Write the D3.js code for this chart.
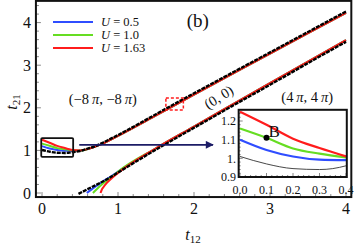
<!DOCTYPE html>
<html><head><meta charset="utf-8">
<script src="https://cdn.jsdelivr.net/npm/d3@7"></script>
<style>
body{margin:0;background:#fff}
text{font-family:"Liberation Serif","Times New Roman",serif;fill:#111}
</style></head><body>
<svg width="354" height="245"></svg>
<script>
var svg = d3.select("svg");

// ticks
var xTicks = [0, 1, 2, 3, 4];
var yTicks = [0, 1, 2, 3, 4];
var insetXTicks = [0, 0.1, 0.2, 0.3, 0.4];
var insetYTicks = [0.9, 1.0, 1.1, 1.2];
var insetYLabels = ["0.9", "1.", "1.1", "1.2"];

var uValues = ["0.5", "1.0", "1.63"];
var colors = ["#2f4dff", "#66dd22", "#ff1c1c"];

// upper branch (t12, t21)
var blackUpper = [[0,1.01],[0.1,0.97],[0.2,0.945],[0.3,0.94],[0.35,0.945],[0.4,0.96],[0.5,0.985],[0.6,1.04],[0.7,1.1],[0.8,1.18],[0.9,1.27],[1.0,1.36],[1.25,1.6],[1.5,1.85],[2,2.34],[2.5,2.82],[3,3.3],[3.5,3.78],[4,4.26]];
var blueUpper = [[0,1.10],[0.1,1.045],[0.2,1.01],[0.3,0.993],[0.4,0.99],[0.5,0.99],[0.6,1.03],[0.7,1.09],[0.8,1.16],[0.9,1.25],[1.0,1.34],[1.5,1.82],[2,2.31],[3,3.27],[4,4.23]];
var greenUpper = [[0,1.16],[0.1,1.11],[0.2,1.053],[0.3,1.025],[0.4,1.005],[0.5,0.995],[0.6,1.03],[0.7,1.09],[0.8,1.16],[0.9,1.25],[1.0,1.34],[1.5,1.82],[2,2.31],[3,3.27],[4,4.23]];
var redUpper = [[0,1.25],[0.1,1.18],[0.2,1.105],[0.3,1.055],[0.4,1.01],[0.5,1.0],[0.6,1.03],[0.7,1.09],[0.8,1.16],[0.9,1.25],[1.0,1.34],[1.5,1.82],[2,2.31],[3,3.27],[4,4.23]];

// lower branch
var blackLower = [[0.48,-0.02],[0.6,0.09],[0.7,0.18],[0.8,0.27],[0.9,0.37],[1.0,0.48],[1.5,1.02],[2,1.53],[2.5,2.04],[3,2.54],[3.5,3.05],[4,3.55]];
var blueLower = [[0.59,0.0],[0.65,0.08],[0.72,0.17],[0.8,0.27],[0.9,0.38],[1.0,0.5],[1.5,1.05],[2,1.56],[3,2.58],[4,3.59]];
var greenLower = [[0.67,0.0],[0.72,0.09],[0.78,0.19],[0.85,0.29],[0.92,0.38],[1.0,0.5],[1.5,1.05],[2,1.56],[3,2.58],[4,3.59]];
var redLower = [[0.77,0.0],[0.785,0.07],[0.81,0.14],[0.85,0.23],[0.92,0.35],[1.0,0.47],[1.5,1.05],[2,1.56],[3,2.58],[4,3.59]];

var x = d3.scaleLinear().domain([0, 4]).range([42, 346]);
var y = d3.scaleLinear().domain([0, 4]).range([193, 22.6]);
var xFrame = [-0.08, 4.07], yFrame = [-0.095, 4.51];

var xi = d3.scaleLinear().domain([0, 0.4]).range([240, 346]);
var yi = d3.scaleLinear().domain([0.9, 1.2]).range([177, 121]);

var line = d3.line().curve(d3.curveMonotoneX)
  .x(function(d) { return x(d[0]); })
  .y(function(d) { return y(d[1]); });

var g = svg.append("g");

// minor + major ticks, inward
var minor = d3.range(0, 4.01, 0.2);
g.selectAll(".xt").data(minor).enter().append("line")
  .attr("x1", function(d) { return x(d); }).attr("x2", function(d) { return x(d); })
  .attr("y1", y(yFrame[0])).attr("y2", function(d, i) { return y(yFrame[0]) - (i % 5 == 0 ? 5 : 3); })
  .attr("stroke", "#888").attr("stroke-width", 1);
g.selectAll(".yt").data(minor.concat([4.2, 4.4])).enter().append("line")
  .attr("y1", function(d) { return y(d); }).attr("y2", function(d) { return y(d); })
  .attr("x1", x(xFrame[0])).attr("x2", function(d, i) { return x(xFrame[0]) + (i % 5 == 0 ? 5 : 3); })
  .attr("stroke", "#888").attr("stroke-width", 1);

// frame
g.append("rect")
  .attr("x", x(xFrame[0])).attr("y", y(yFrame[1]))
  .attr("width", x(xFrame[1]) - x(xFrame[0]))
  .attr("height", y(yFrame[0]) - y(yFrame[1]))
  .attr("fill", "none").attr("stroke", "#111").attr("stroke-width", 2);

// tick labels
g.selectAll(".xl").data(xTicks).enter().append("text")
  .attr("x", function(d) { return x(d); }).attr("y", 214)
  .attr("text-anchor", "middle").style("font-size", "16px").text(function(d) { return d; });
g.selectAll(".yl").data(yTicks).enter().append("text")
  .attr("x", 31).attr("y", function(d) { return y(d); }).attr("dy", "0.35em")
  .attr("text-anchor", "end").style("font-size", "16px").text(function(d) { return d; });

// axis titles
var xt = g.append("text").attr("x", 193).attr("y", 240).attr("text-anchor", "middle").style("font-size", "16px");
xt.append("tspan").style("font-style", "italic").text("t");
xt.append("tspan").attr("dy", 3).style("font-size", "11px").text("12");
var yt = g.append("text").attr("transform", "translate(17,102) rotate(-90)").attr("text-anchor", "middle").style("font-size", "16px");
yt.append("tspan").style("font-style", "italic").text("t");
yt.append("tspan").attr("dy", 3).style("font-size", "11px").text("21");

// curves
var upper = [blueUpper, greenUpper, redUpper];
var lower = [blueLower, greenLower, redLower];
upper.forEach(function(s, i) {
  g.append("path").datum(s).attr("d", line).attr("fill", "none")
    .attr("stroke", colors[i]).attr("stroke-width", 2);
});
lower.forEach(function(s, i) {
  g.append("path").datum(s).attr("d", line).attr("fill", "none")
    .attr("stroke", colors[i]).attr("stroke-width", 2);
});
[blackUpper, blackLower].forEach(function(s) {
  g.append("path").datum(s).attr("d", line).attr("fill", "none")
    .attr("stroke", "#000").attr("stroke-width", 2.4).attr("stroke-dasharray", "4,1");
});

// small black box, red dashed box
g.append("rect").attr("x", x(-0.01)).attr("y", y(1.29))
  .attr("width", x(0.41) - x(-0.01)).attr("height", y(0.85) - y(1.29))
  .attr("fill", "none").attr("stroke", "#111").attr("stroke-width", 1.8).attr("rx", 1);
g.append("rect").attr("x", x(1.63)).attr("y", y(2.23))
  .attr("width", x(1.86) - x(1.63)).attr("height", y(1.95) - y(2.23))
  .attr("fill", "none").attr("stroke", "#ff1c1c").attr("stroke-width", 1.5).attr("stroke-dasharray", "3,2");

// arrow
svg.append("defs").append("marker").attr("id", "ah")
  .attr("viewBox", "0 0 10 10").attr("refX", 9).attr("refY", 5)
  .attr("markerWidth", 6).attr("markerHeight", 5).attr("orient", "auto")
  .append("path").attr("d", "M0,0L10,5L0,10z").attr("fill", "#1c1c66");
g.append("line").attr("x1", x(0.49)).attr("y1", y(1.13)).attr("x2", x(2.25)).attr("y2", y(1.13))
  .attr("stroke", "#1c1c66").attr("stroke-width", 1.6).attr("marker-end", "url(#ah)");

// labels
g.append("text").attr("x", x(2.05)).attr("y", y(3.9)).attr("text-anchor", "middle")
  .style("font-size", "19px").text("(b)");
function piLabel(t, a, b) {
  t.append("tspan").text("(" + a + "\u2009");
  t.append("tspan").style("font-style", "italic").text("\u03c0");
  t.append("tspan").text(", " + b + "\u2009");
  t.append("tspan").style("font-style", "italic").text("\u03c0");
  t.append("tspan").text(")");
}
piLabel(g.append("text").attr("x", x(0.8)).attr("y", y(2.09)).attr("text-anchor", "middle").style("font-size", "14.5px"), "\u22128", "\u22128");
piLabel(g.append("text").attr("x", x(3.49)).attr("y", y(2.14)).attr("text-anchor", "middle").style("font-size", "14.5px"), "4", "4");
g.append("text").attr("transform", "translate(" + x(2.36) + "," + (y(2.25) + 4) + ") rotate(-32)")
  .attr("text-anchor", "middle").style("font-size", "14.5px").text("(0, 0)");

// legend
uValues.forEach(function(u, i) {
  var ly = [22, 35, 48][i];
  g.append("line").attr("x1", 53).attr("x2", 93).attr("y1", ly).attr("y2", ly)
    .attr("stroke", colors[i]).attr("stroke-width", 2);
  var t = g.append("text").attr("x", 101).attr("y", ly + 4).style("font-size", "12.5px");
  t.append("tspan").style("font-style", "italic").text("U");
  t.append("tspan").text(" = " + u);
});

// inset
var ig = svg.append("g");
var iline = d3.line().curve(d3.curveMonotoneX)
  .x(function(d) { return xi(d[0]); })
  .y(function(d) { return yi(d[1]); });
ig.append("rect").attr("x", xi(-0.005)).attr("y", yi(1.26))
  .attr("width", xi(0.403) - xi(-0.005)).attr("height", yi(0.9) - yi(1.26))
  .attr("fill", "#fff");
var iminor = d3.range(0, 0.401, 0.02);
ig.selectAll(".ixt").data(iminor).enter().append("line")
  .attr("x1", function(d) { return xi(d); }).attr("x2", function(d) { return xi(d); })
  .attr("y1", yi(0.9)).attr("y2", function(d, i) { return yi(0.9) - (i % 5 == 0 ? 4 : 2); })
  .attr("stroke", "#888");
ig.selectAll(".iyt").data(d3.range(0.9, 1.26, 0.02)).enter().append("line")
  .attr("y1", function(d) { return yi(d); }).attr("y2", function(d) { return yi(d); })
  .attr("x1", xi(-0.005)).attr("x2", function(d, i) { return xi(-0.005) + (i % 5 == 0 ? 4 : 2); })
  .attr("stroke", "#888");
function clipS(s) { return s.filter(function(d) { return d[0] <= 0.4; }); }
ig.append("path").datum(clipS(blackUpper)).attr("d", iline).attr("fill", "none")
  .attr("stroke", "#333").attr("stroke-width", 0.9);
upper.forEach(function(s, i) {
  ig.append("path").datum(clipS(s)).attr("d", iline).attr("fill", "none")
    .attr("stroke", colors[i]).attr("stroke-width", 2.2);
});
ig.append("rect").attr("x", xi(-0.005)).attr("y", yi(1.26))
  .attr("width", xi(0.403) - xi(-0.005)).attr("height", yi(0.9) - yi(1.26))
  .attr("fill", "none").attr("stroke", "#111").attr("stroke-width", 2);
ig.append("circle").attr("cx", xi(0.1)).attr("cy", yi(1.11)).attr("r", 3).attr("fill", "#000");
ig.append("text").attr("x", xi(0.1) + 2).attr("y", yi(1.11) - 1).style("font-size", "17px").text("B");
ig.selectAll(".ixl").data(insetXTicks).enter().append("text")
  .attr("x", function(d) { return xi(d); }).attr("y", 194).attr("text-anchor", "middle")
  .style("font-size", "12px").text(function(d) { return d3.format(".1f")(d); });
ig.selectAll(".iyl").data(insetYTicks).enter().append("text")
  .attr("x", 236).attr("y", function(d) { return yi(d); }).attr("dy", "0.35em").attr("text-anchor", "end")
  .style("font-size", "12px").text(function(d, i) { return insetYLabels[i]; });
</script>
</body></html>
